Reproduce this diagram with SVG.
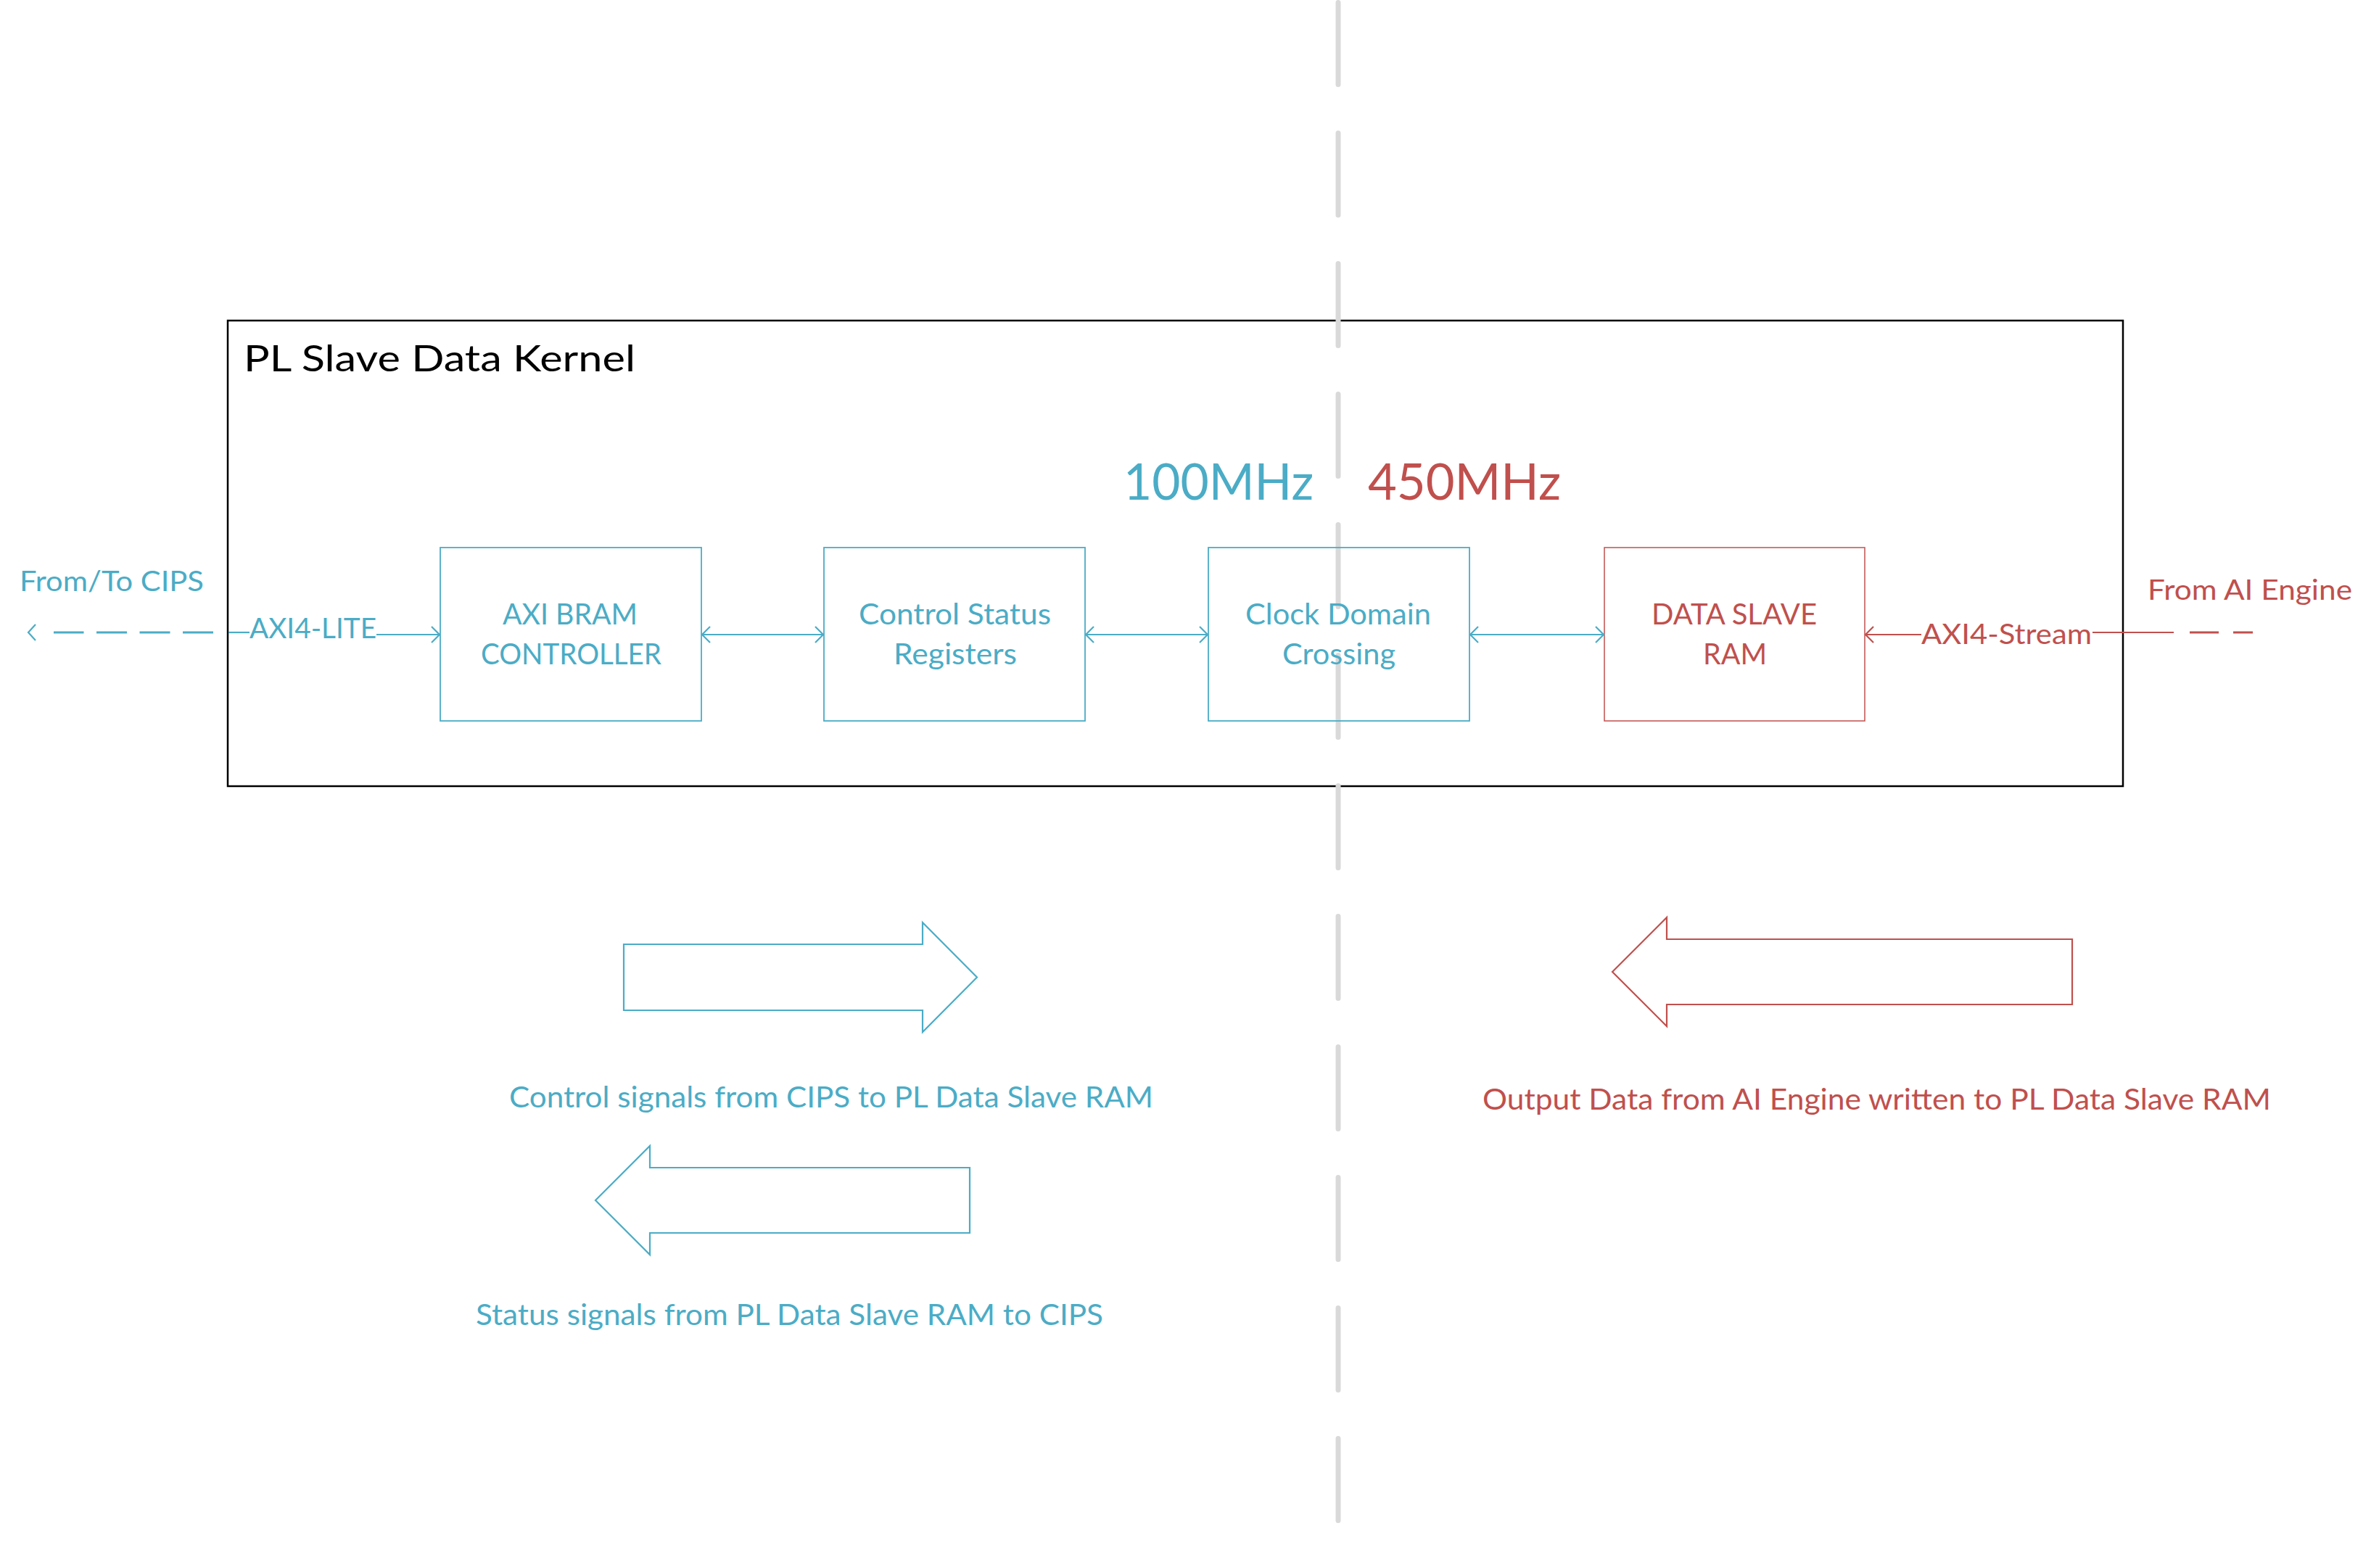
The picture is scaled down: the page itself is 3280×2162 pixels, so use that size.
<svg xmlns="http://www.w3.org/2000/svg" width="3280" height="2162" viewBox="0 0 3280 2162">
<style>
text{font-family:Lato,"Open Sans","Liberation Sans",sans-serif;}
.blue{fill:#4BACC6;}
.red{fill:#C0504D;}
.node{font-size:40px;}
.lbl{font-size:39px;}
.big{font-size:70px;}
.cap{font-size:40px;}
.bbox{fill:none;stroke:#4BACC6;stroke-width:1.8;}
.rbox{fill:none;stroke:#C0504D;stroke-width:1.5;}
.bl{fill:none;stroke:#4BACC6;stroke-width:2.2;}
.rl{fill:none;stroke:#C0504D;stroke-width:2.2;}
.bd{fill:none;stroke:#4BACC6;stroke-width:3;}
.rd{fill:none;stroke:#C0504D;stroke-width:3;}
.bigarrow-b{fill:#FFFFFF;stroke:#4BACC6;stroke-width:2.2;}
.bigarrow-r{fill:#FFFFFF;stroke:#C0504D;stroke-width:2.2;}
.divider{fill:none;stroke:#D9D9D9;stroke-width:7;stroke-linecap:round;}
</style>
<rect width="3280" height="2162" fill="#FFFFFF"/>

<g id="kernel">
<rect x="314" y="442" width="2613" height="642" fill="#FFFFFF" stroke="#000000" stroke-width="2.5"/>
<text x="336" y="512" font-size="51" fill="#000000" textLength="540" lengthAdjust="spacingAndGlyphs">PL Slave Data Kernel</text>
</g>

<g id="clock-divider">
<path class="divider" d="M1845,3.5 V2096.5" stroke-dasharray="113 67"/>
</g>

<g id="clock-labels">
<text class="big blue" x="1549" y="689" textLength="262" lengthAdjust="spacingAndGlyphs">100MHz</text>
<text class="big red" x="1886" y="689" textLength="266" lengthAdjust="spacingAndGlyphs">450MHz</text>
</g>

<g id="node-axi-bram">
<rect class="bbox" x="607" y="755" width="360" height="239"/>
<text class="node blue" x="693" y="861" textLength="186" lengthAdjust="spacingAndGlyphs">AXI BRAM</text>
<text class="node blue" x="663" y="916" textLength="249" lengthAdjust="spacingAndGlyphs">CONTROLLER</text>
</g>

<g id="node-csr">
<rect class="bbox" x="1136" y="755" width="360" height="239"/>
<text class="node blue" x="1184" y="861" textLength="265" lengthAdjust="spacingAndGlyphs">Control Status</text>
<text class="node blue" x="1232" y="916" textLength="170" lengthAdjust="spacingAndGlyphs">Registers</text>
</g>

<g id="node-cdc">
<rect class="bbox" x="1666" y="755" width="360" height="239"/>
<text class="node blue" x="1717" y="861" textLength="256" lengthAdjust="spacingAndGlyphs">Clock Domain</text>
<text class="node blue" x="1768" y="916" textLength="156" lengthAdjust="spacingAndGlyphs">Crossing</text>
</g>

<g id="node-data-slave-ram">
<rect class="rbox" x="2212" y="755" width="359" height="239"/>
<text class="node red" x="2277" y="861" textLength="228" lengthAdjust="spacingAndGlyphs">DATA SLAVE</text>
<text class="node red" x="2348" y="916" textLength="88" lengthAdjust="spacingAndGlyphs">RAM</text>
</g>

<g id="connectors">
<path class="bd" d="M294,872 H74" stroke-dasharray="42 17.5"/>
<path class="bl" d="M49,861 L39,872 L49,883"/>
<path class="bl" d="M315,872 H344"/>
<path class="bl" d="M519,875 H606"/>
<path class="bl" d="M595,864 L606,875 L595,886"/>
<path class="bl" d="M968,875 H1135"/>
<path class="bl" d="M979,864 L968,875 L979,886"/>
<path class="bl" d="M1124,864 L1135,875 L1124,886"/>
<path class="bl" d="M1497,875 H1665"/>
<path class="bl" d="M1508,864 L1497,875 L1508,886"/>
<path class="bl" d="M1654,864 L1665,875 L1654,886"/>
<path class="bl" d="M2027,875 H2211"/>
<path class="bl" d="M2038,864 L2027,875 L2038,886"/>
<path class="bl" d="M2200,864 L2211,875 L2200,886"/>
<path class="rl" d="M2649,875 H2572"/>
<path class="rl" d="M2583,864 L2572,875 L2583,886"/>
<path class="rl" d="M2885,872 H2997"/>
<path class="rd" d="M3019,872 H3059 M3079,872 H3106"/>
<text class="lbl blue" x="344" y="880" textLength="175" lengthAdjust="spacingAndGlyphs">AXI4-LITE</text>
<text class="lbl red" x="2649" y="888" textLength="235" lengthAdjust="spacingAndGlyphs">AXI4-Stream</text>
</g>

<g id="external-labels">
<text class="lbl blue" x="27" y="815" textLength="254" lengthAdjust="spacingAndGlyphs">From/To CIPS</text>
<text class="lbl red" x="2961" y="827" textLength="282" lengthAdjust="spacingAndGlyphs">From AI Engine</text>
</g>

<g id="legend-control">
<path class="bigarrow-b" d="M860,1302 H1272 V1272 L1347,1347.5 L1272,1423 V1393 H860 Z"/>
<text class="cap blue" x="702" y="1527" textLength="888" lengthAdjust="spacingAndGlyphs">Control signals from CIPS to PL Data Slave RAM</text>
</g>

<g id="legend-status">
<path class="bigarrow-b" d="M821,1655 L896,1580 V1610 H1337 V1700 H896 V1730 Z"/>
<text class="cap blue" x="656" y="1827" textLength="865" lengthAdjust="spacingAndGlyphs">Status signals from PL Data Slave RAM to CIPS</text>
</g>

<g id="legend-output">
<path class="bigarrow-r" d="M2223,1340 L2298,1265 V1295 H2857 V1385 H2298 V1415 Z"/>
<text class="cap red" x="2044" y="1530" textLength="1087" lengthAdjust="spacingAndGlyphs">Output Data from AI Engine written to PL Data Slave RAM</text>
</g>
</svg>
